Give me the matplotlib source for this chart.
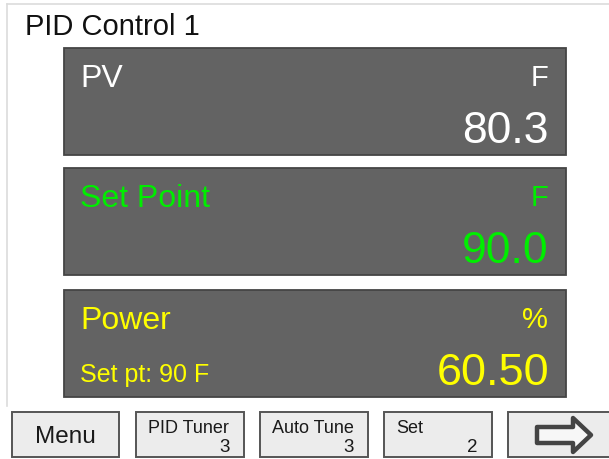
import matplotlib
matplotlib.use("Agg")
import matplotlib.pyplot as plt
from matplotlib.patches import Rectangle, Polygon

plt.rcParams['font.family'] = ['Liberation Sans', 'DejaVu Sans']

# ---- data ----
title = "PID Control 1"
panel_labels = ["PV", "Set Point", "Power"]
panel_units = ["F", "F", "%"]
panel_values = [80.3, 90.0, 60.50]
panel_formats = ["{:.1f}", "{:.1f}", "{:.2f}"]
panel_colors = ["#ffffff", "#00ee00", "#ffff00"]
panel_notes = ["", "", "Set pt: 90 F"]
button_labels = ["Menu", "PID Tuner", "Auto Tune", "Set", ""]
button_numbers = ["", "3", "3", "2", ""]

# ---- layout (pixels) ----
W, H = 609, 459
fig = plt.figure(figsize=(W / 100, H / 100), dpi=100)
ax = fig.add_axes([0, 0, 1, 1])
ax.set_xlim(0, W)
ax.set_ylim(H, 0)
ax.axis("off")
fig.patch.set_facecolor("white")

# outer frame lines
ax.plot([7, W], [4, 4], color="#dcdcdc", lw=1.2)
ax.plot([7, 7], [4, 406], color="#dcdcdc", lw=1.2)

ax.text(25, 35, title, fontsize=21, color="#111111", va="baseline", ha="left")

panel_tops = [48, 168, 290]
px0, px1, ph = 64, 566, 107
for top, lab, unit, val, fmt, col, note in zip(panel_tops, panel_labels, panel_units,
                                               panel_values, panel_formats, panel_colors, panel_notes):
    ax.add_patch(Rectangle((px0, top), px1 - px0, ph, facecolor="#636363",
                           edgecolor="#454545", lw=1.3))
    ax.text(80, top + 39, lab, fontsize=23, color=col, va="baseline", ha="left")
    ax.text(548, top + 38, unit, fontsize=21, color=col,
            va="baseline", ha="right")
    ax.text(549, top + 95, fmt.format(val), fontsize=32.5 if len(fmt.format(val)) > 4 else 32,
            color=col, va="baseline", ha="right")
    if note:
        ax.text(80, top + 92, note, fontsize=18, color=col, va="baseline", ha="left")

# buttons
bx = [(12, 119), (136, 244), (260, 368), (384, 492), (508, 614)]
by0, by1 = 412, 457
for (x0, x1), lab, num in zip(bx, button_labels, button_numbers):
    ax.add_patch(Rectangle((x0, by0), x1 - x0, by1 - by0, facecolor="#ececec",
                           edgecolor="#555555", lw=1.4))
    if lab and not num:
        ax.text((x0 + x1) / 2, 443, lab, fontsize=17.5, color="#1a1a1a",
                va="baseline", ha="center")
    elif lab:
        ax.text(x0 + 12, 433, lab, fontsize=13, color="#1a1a1a", va="baseline", ha="left")
        ax.text(x1 - 14, 452, num, fontsize=13.5, color="#1a1a1a", va="baseline", ha="right")

# arrow on last button
arrow = [(537, 427), (573, 427), (573, 418), (591, 435), (573, 452), (573, 443), (537, 443)]
ax.add_patch(Polygon(arrow, closed=True, facecolor="#f7f7f7", edgecolor="#444444",
                     lw=3.2, joinstyle="round"))

fig.savefig("out.png", dpi=100, facecolor="white")
